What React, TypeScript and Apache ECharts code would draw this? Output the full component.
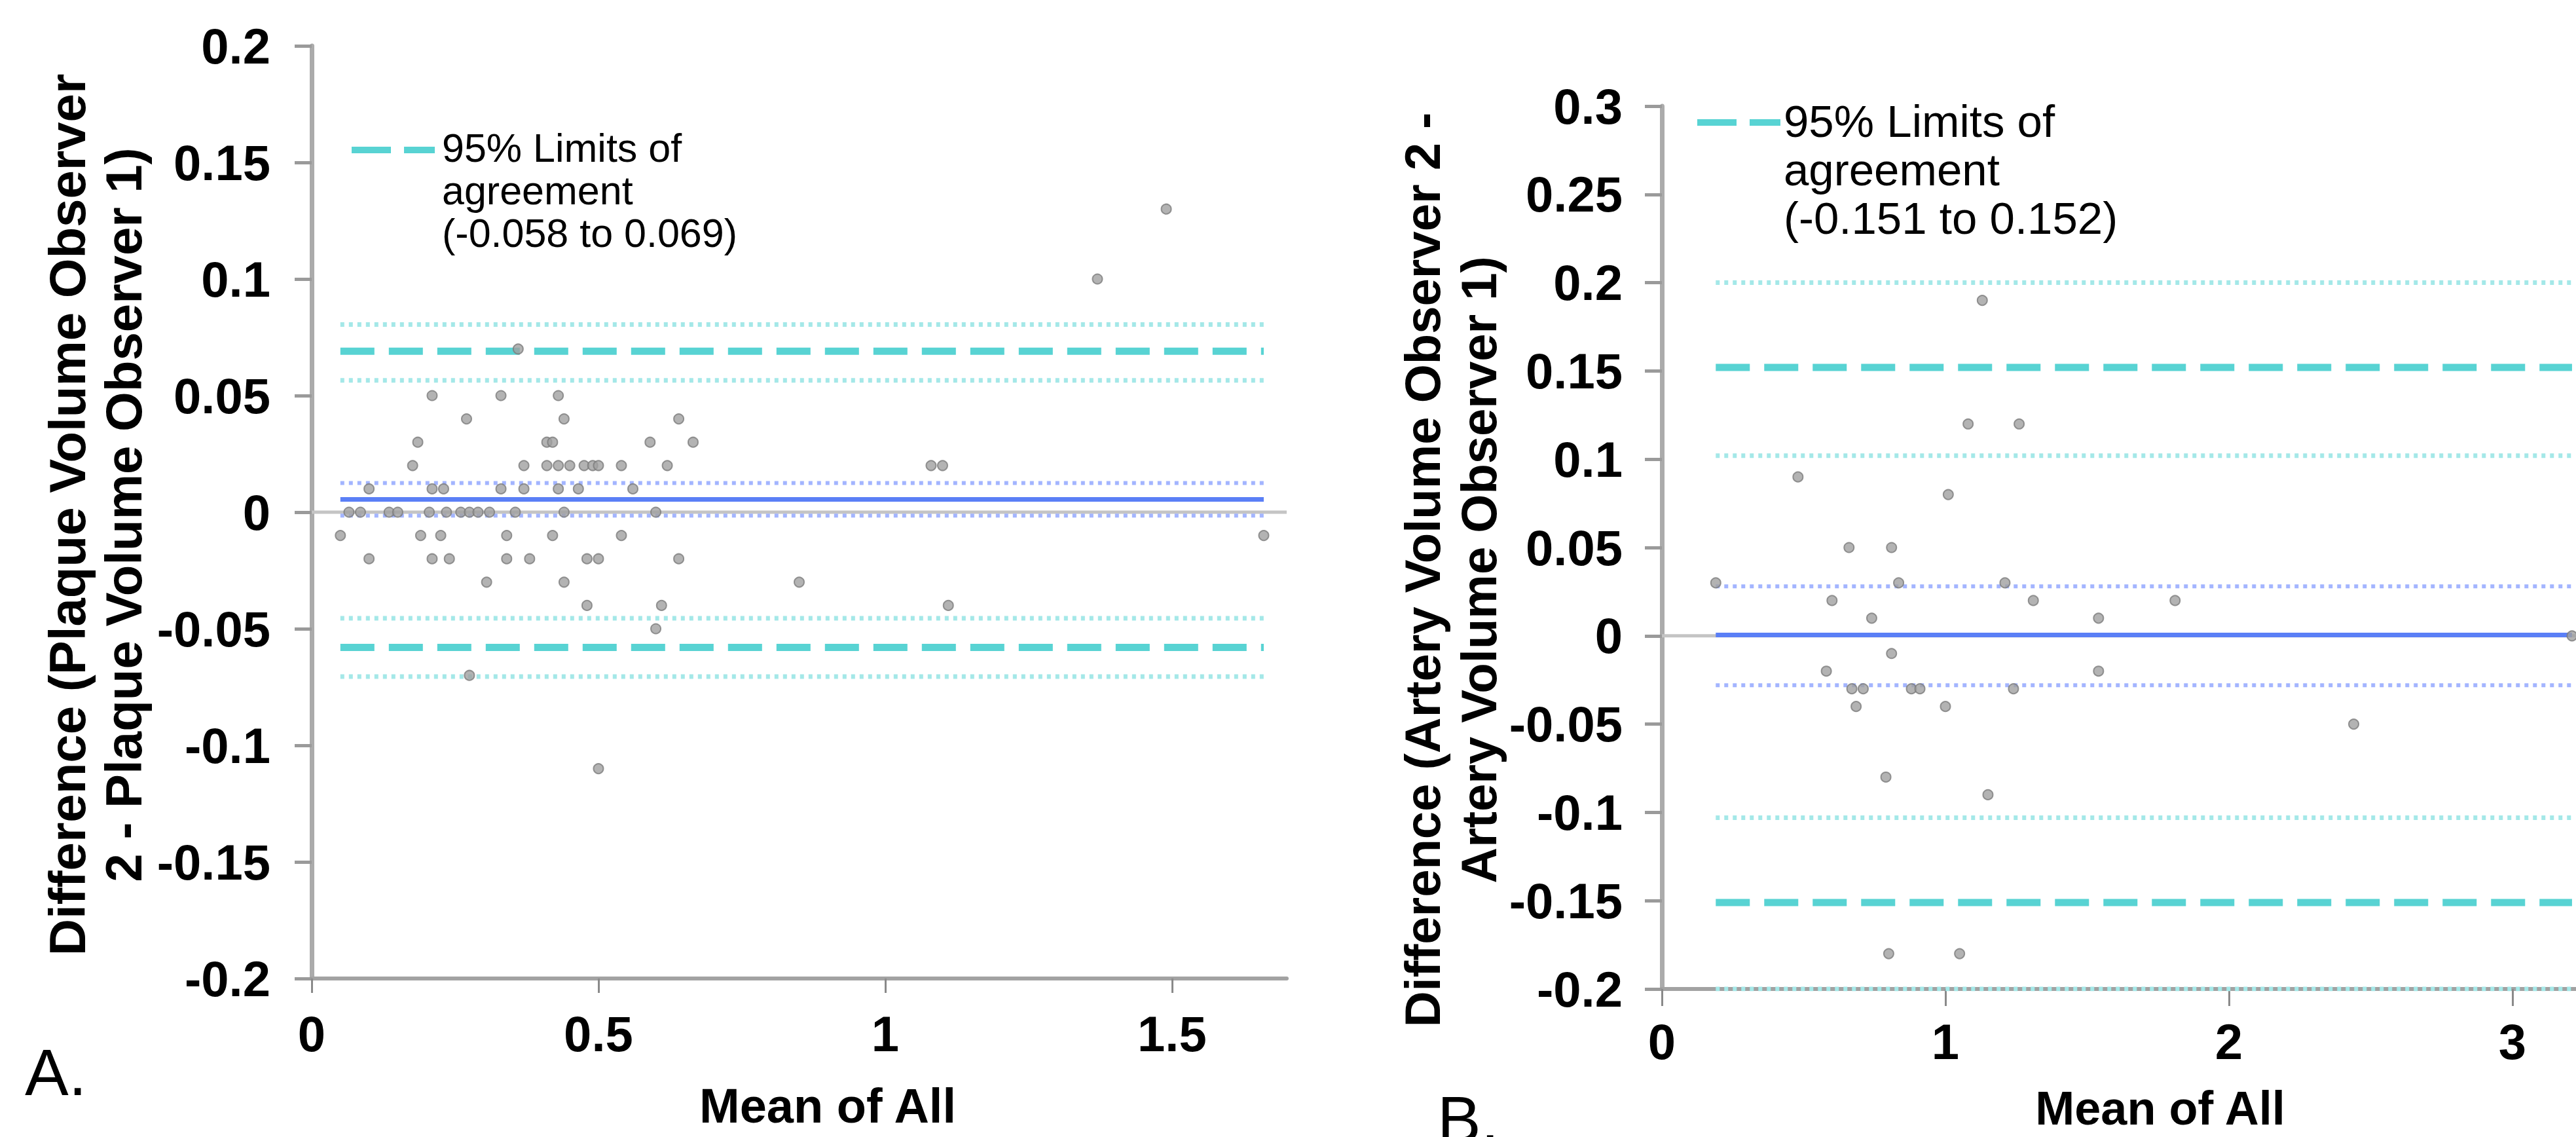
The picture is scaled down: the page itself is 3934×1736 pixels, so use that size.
import React, { useEffect, useRef } from "react";
import * as echarts from "echarts";

// ---------- Panel A: plaque volume ----------
const meanA = [
  1.49, 1.37, 0.36,
  0.21, 0.33, 0.43,
  0.27, 0.44, 0.64,
  0.185, 0.41, 0.42, 0.59, 0.665,
  0.176, 0.37, 0.41, 0.43, 0.45, 0.475, 0.49, 0.5, 0.54, 0.62, 1.08, 1.1,
  0.1, 0.21, 0.23, 0.33, 0.37, 0.43, 0.465, 0.56,
  0.065, 0.085, 0.135, 0.15, 0.205, 0.235, 0.26, 0.275, 0.29, 0.31, 0.355, 0.44, 0.6,
  0.05, 0.19, 0.225, 0.34, 0.42, 0.54, 1.66,
  0.1, 0.21, 0.24, 0.34, 0.38, 0.48, 0.5, 0.64,
  0.305, 0.44, 0.85,
  0.48, 0.61, 1.11,
  0.6, 0.275, 0.5,
];
const diffA = [
  0.13, 0.1, 0.07,
  0.05, 0.05, 0.05,
  0.04, 0.04, 0.04,
  0.03, 0.03, 0.03, 0.03, 0.03,
  0.02, 0.02, 0.02, 0.02, 0.02, 0.02, 0.02, 0.02, 0.02, 0.02, 0.02, 0.02,
  0.01, 0.01, 0.01, 0.01, 0.01, 0.01, 0.01, 0.01,
  0, 0, 0, 0, 0, 0, 0, 0, 0, 0, 0, 0, 0,
  -0.01, -0.01, -0.01, -0.01, -0.01, -0.01, -0.01,
  -0.02, -0.02, -0.02, -0.02, -0.02, -0.02, -0.02, -0.02,
  -0.03, -0.03, -0.03,
  -0.04, -0.04, -0.04,
  -0.05, -0.07, -0.11,
];
const limitsA = [-0.058, 0.069];
const upperCiA = [0.0565, 0.0805];
const lowerCiA = [-0.0705, -0.0455];
const biasA = 0.0055;
const biasCiA = [-0.0015, 0.0125];
const xTicksA = [0, 0.5, 1, 1.5];

// ---------- Panel B: artery volume ----------
const meanB = [
  0.19, 0.48, 0.58, 0.6, 0.66, 0.67, 0.685, 0.71, 0.74, 0.79, 0.8,
  0.81, 0.81, 0.835, 0.88, 0.91, 1.0, 1.01, 1.05, 1.08, 1.13, 1.15,
  1.21, 1.24, 1.26, 1.31, 1.54, 1.54, 1.81, 2.44, 3.21,
];
const diffB = [
  0.03, 0.09, -0.02, 0.02, 0.05, -0.03, -0.04, -0.03, 0.01, -0.08, -0.18,
  0.05, -0.01, 0.03, -0.03, -0.03, -0.04, 0.08, -0.18, 0.12, 0.19, -0.09,
  0.03, -0.03, 0.12, 0.02, 0.01, -0.02, 0.02, -0.05, 0,
];
const limitsB = [-0.151, 0.152];
const upperCiB = [0.102, 0.2];
const lowerCiB = [-0.2, -0.103];
const biasB = 0.0005;
const biasCiB = [-0.028, 0.028];
const xTicksB = [0, 1, 2, 3];

const FONT = "'Liberation Sans', Arial, Helvetica, sans-serif";

const CYAN_DASH = "#58d3d3";
const CYAN_DOT = "#a4e8e8";
const BLUE = "#5a7ff6";
const BLUE_DOT = "#a3b5ff";

function hLine(idx: number, x0: number, x1: number, y: number, lineStyle: any, z: number) {
  return {
    type: "line",
    xAxisIndex: idx,
    yAxisIndex: idx,
    data: [
      [x0, y],
      [x1, y],
    ],
    symbol: "none",
    silent: true,
    animation: false,
    lineStyle,
    z,
  };
}

function panelSeries(
  idx: number,
  xs: number[],
  ys: number[],
  xMaxAxis: number,
  limits: number[],
  upperCi: number[],
  lowerCi: number[],
  bias: number,
  biasCi: number[]
) {
  const x0 = Math.min(...xs);
  const x1 = Math.max(...xs);
  const dot = (c: string, w: number) => ({ color: c, width: w, type: [6, 7] });
  const out: any[] = [];
  out.push(hLine(idx, 0, xMaxAxis, 0, { color: "#c4c4c4", width: 5 }, 1));
  [upperCi[0], upperCi[1], lowerCi[0], lowerCi[1]].forEach((v) =>
    out.push(hLine(idx, x0, x1, v, dot(CYAN_DOT, 7), 2))
  );
  limits.forEach((v) =>
    out.push(hLine(idx, x0, x1, v, { color: CYAN_DASH, width: 11, type: [52, 22] }, 3))
  );
  biasCi.forEach((v) => out.push(hLine(idx, x0, x1, v, dot(BLUE_DOT, 6), 4)));
  out.push(hLine(idx, x0, x1, bias, { color: BLUE, width: 7 }, 5));
  out.push({
    type: "scatter",
    xAxisIndex: idx,
    yAxisIndex: idx,
    data: xs.map((x, i) => [x, ys[i]]),
    symbol: "circle",
    symbolSize: 15,
    itemStyle: { color: "#a0a0a0", borderColor: "#7c7c7c", borderWidth: 2 },
    z: 10,
  });
  return out;
}

const labelStyle = {
  fontSize: 76,
  fontWeight: "bold",
  fontFamily: FONT,
  color: "#000",
};

function xAxis(idx: number, max: number, interval: number, ticks: number[], margin: number, tickLen: number) {
  return {
    type: "value",
    gridIndex: idx,
    min: 0,
    max,
    interval,
    axisLine: { show: true, onZero: false, lineStyle: { color: "#a2a2a2", width: 6 } },
    axisTick: { show: true, length: tickLen, customValues: ticks, lineStyle: { color: "#8a8a8a", width: 3 } },
    axisLabel: { ...labelStyle, margin, customValues: ticks },
    splitLine: { show: false },
  };
}

function yAxis(idx: number, min: number, max: number, margin: number) {
  return {
    type: "value",
    gridIndex: idx,
    min,
    max,
    interval: 0.05,
    axisLine: { show: true, onZero: false, lineStyle: { color: "#ababab", width: 7 } },
    axisTick: { show: true, length: 26, lineStyle: { color: "#9a9a9a", width: 5 } },
    axisLabel: { ...labelStyle, margin },
    splitLine: { show: false },
  };
}

const legendText = (l: number[]) =>
  `95% Limits of\nagreement\n(${l[0].toFixed(3)} to ${l[1].toFixed(3)})`;

const option: any = {
  animation: false,
  backgroundColor: "#ffffff",
  grid: [
    { left: 476, top: 70, width: 1489, height: 1424 },
    { left: 2538, top: 162, width: 1515.5, height: 1348 },
  ],
  xAxis: [xAxis(0, 1.7, 0.5, xTicksA, 46, 22), xAxis(1, 3.5, 1, xTicksB, 42, 26)],
  yAxis: [yAxis(0, -0.2, 0.2, 63), yAxis(1, -0.2, 0.3, 60)],
  series: [
    ...panelSeries(0, meanA, diffA, 1.7, limitsA, upperCiA, lowerCiA, biasA, biasCiA),
    ...panelSeries(1, meanB, diffB, 3.5, limitsB, upperCiB, lowerCiB, biasB, biasCiB),
  ],
  graphic: [
    {
      type: "text",
      x: 146,
      y: 786,
      rotation: Math.PI / 2,
      style: {
        text: "Difference (Plaque Volume Observer\n2 - Plaque Volume Observer 1)",
        fontSize: 78,
        fontWeight: "bold",
        fontFamily: FONT,
        fill: "#000",
        textAlign: "center",
        textVerticalAlign: "middle",
        verticalAlign: "middle",
        lineHeight: 86,
      },
    },
    {
      type: "text",
      x: 2215,
      y: 870,
      rotation: Math.PI / 2,
      style: {
        text: "Difference (Artery Volume Observer 2 -\nArtery Volume Observer 1)",
        fontSize: 76,
        fontWeight: "bold",
        fontFamily: FONT,
        fill: "#000",
        textAlign: "center",
        textVerticalAlign: "middle",
        verticalAlign: "middle",
        lineHeight: 86,
      },
    },
    {
      type: "text",
      x: 1264,
      y: 1688,
      style: {
        text: "Mean of All",
        fontSize: 74,
        fontWeight: "bold",
        fontFamily: FONT,
        fill: "#000",
        textAlign: "center",
        textVerticalAlign: "middle",
        verticalAlign: "middle",
      },
    },
    {
      type: "text",
      x: 3299,
      y: 1692,
      style: {
        text: "Mean of All",
        fontSize: 72,
        fontWeight: "bold",
        fontFamily: FONT,
        fill: "#000",
        textAlign: "center",
        textVerticalAlign: "middle",
        verticalAlign: "middle",
      },
    },
    {
      type: "text",
      x: 38,
      y: 1637,
      style: {
        text: "A.",
        fontSize: 100,
        fontFamily: FONT,
        fill: "#000",
        textAlign: "left",
        textVerticalAlign: "middle",
        verticalAlign: "middle",
      },
    },
    {
      type: "text",
      x: 2195,
      y: 1709,
      style: {
        text: "B.",
        fontSize: 100,
        fontFamily: FONT,
        fill: "#000",
        textAlign: "left",
        textVerticalAlign: "middle",
        verticalAlign: "middle",
      },
    },
    {
      type: "line",
      shape: { x1: 537, y1: 229, x2: 664, y2: 229 },
      style: { stroke: CYAN_DASH, lineWidth: 10, lineDash: [60, 20] },
    },
    {
      type: "text",
      x: 675,
      y: 291,
      style: {
        text: legendText(limitsA),
        fontSize: 61,
        fontFamily: FONT,
        fill: "#000",
        textAlign: "left",
        textVerticalAlign: "middle",
        verticalAlign: "middle",
        lineHeight: 65,
      },
    },
    {
      type: "line",
      shape: { x1: 2592, y1: 187, x2: 2719, y2: 187 },
      style: { stroke: CYAN_DASH, lineWidth: 10, lineDash: [60, 20] },
    },
    {
      type: "text",
      x: 2724,
      y: 259,
      style: {
        text: legendText(limitsB),
        fontSize: 69,
        fontFamily: FONT,
        fill: "#000",
        textAlign: "left",
        textVerticalAlign: "middle",
        verticalAlign: "middle",
        lineHeight: 74,
      },
    },
  ],
};

export default function App() {
  const ref = useRef<HTMLDivElement>(null);
  useEffect(() => {
    if (!ref.current) return;
    const chart = echarts.init(ref.current, undefined, { renderer: "svg" });
    chart.setOption(option);
    return () => chart.dispose();
  }, []);
  return (
    <div
      style={{
        position: "absolute",
        left: 0,
        top: 0,
        width: 3934,
        height: 1736,
        overflow: "hidden",
        background: "#fff",
      }}
    >
      <div ref={ref} style={{ width: 4100, height: 1736 }} />
    </div>
  );
}
